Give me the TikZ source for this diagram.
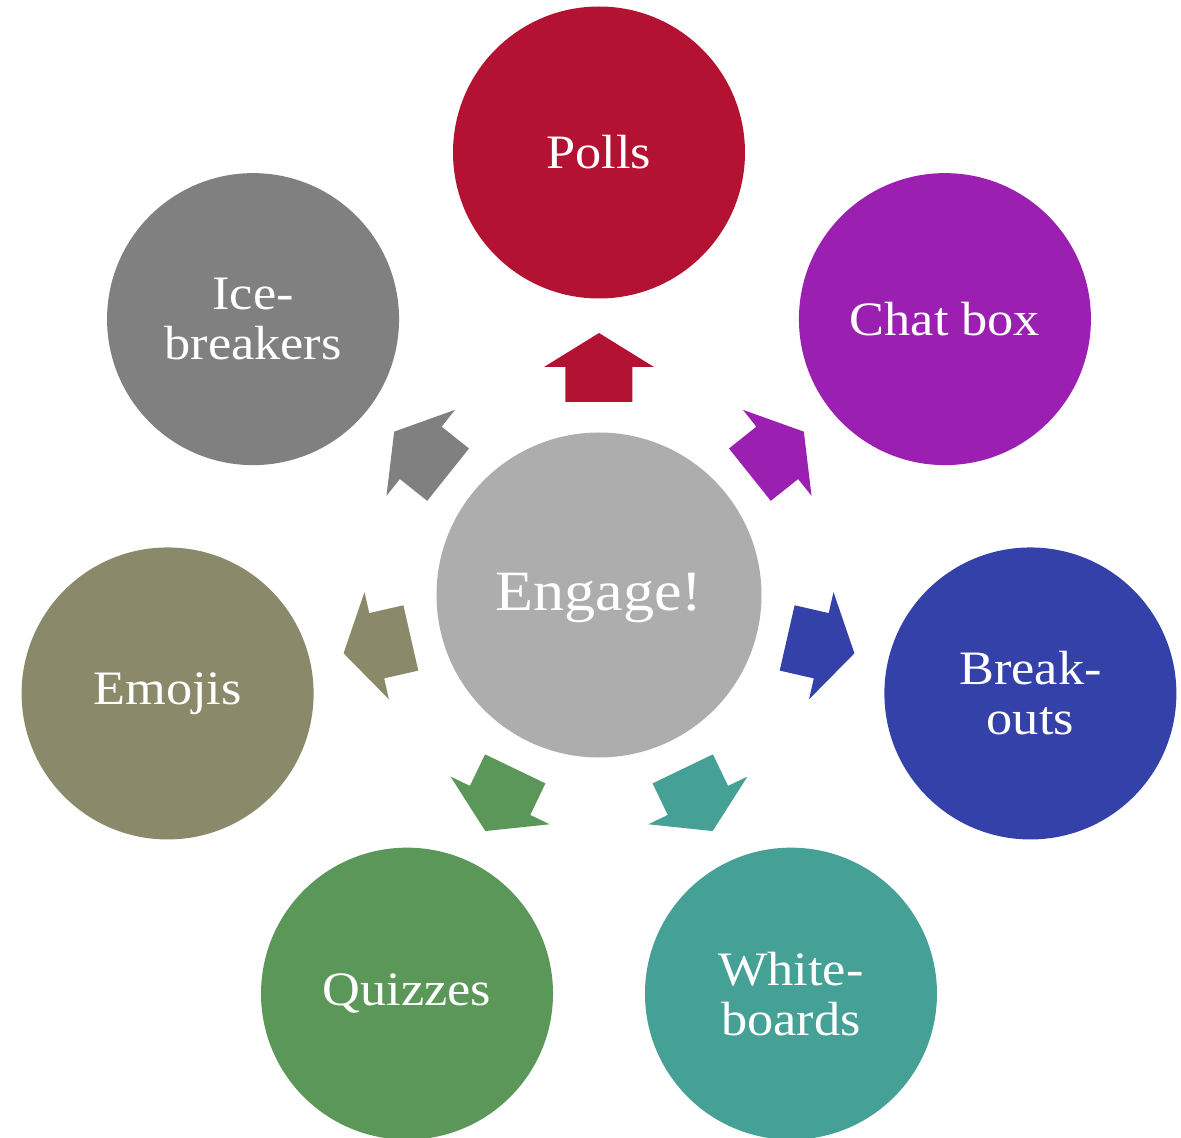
\documentclass[tikz,border=0pt]{standalone}
\usepackage{fontspec}
\setmainfont{Liberation Serif}[FakeStretch=1.09]
\definecolor{cCenter}{RGB}{173,173,173}
\definecolor{cPolls}{RGB}{180,18,50}
\definecolor{cChat}{RGB}{155,32,178}
\definecolor{cBreak}{RGB}{52,65,168}
\definecolor{cWhite}{RGB}{69,160,150}
\definecolor{cQuiz}{RGB}{91,151,88}
\definecolor{cEmoji}{RGB}{138,138,106}
\definecolor{cIce}{RGB}{128,128,128}
\begin{document}
\begin{tikzpicture}[x=1pt,y=1pt,
  outer/.style={circle, fill=#1, minimum size=292pt, inner sep=0pt, text=white,
    font=\fontsize{48}{50}\selectfont, align=center},
  hub/.style={circle, fill=cCenter, minimum size=325pt, inner sep=0pt, text=white,
    font=\fontsize{57}{60}\selectfont},
  blockarrow/.style={fill=#1}]
\useasboundingbox (-599,-543) rectangle (582,595);
\node[hub] (engage) at (0,0) {};
\node[text=white, font=\fontsize{57}{60}\selectfont] (engagetxt) at (0,-3) {Engage!};
\node[outer=cPolls] (polls) at (90:442.5) {Polls};
\node[outer=cChat] (chat) at (38.5714:442.5) {Chat box};
\node[outer=cBreak] (break) at (-12.8571:442.5) {Break-\\outs};
\node[outer=cWhite] (white) at (-64.2857:442.5) {White-\\boards};
\node[outer=cQuiz] (quiz) at (-115.7143:442.5) {Quizzes};
\node[outer=cEmoji] (emoji) at (192.8571:442.5) {Emojis};
\node[outer=cIce] (ice) at (141.4286:442.5) {Ice-\\breakers};
\foreach \ang/\col in {90/cPolls, 38.5714/cChat, -12.8571/cBreak, -64.2857/cWhite,
  -115.7143/cQuiz, 192.8571/cEmoji, 141.4286/cIce}{
  \fill[blockarrow=\col, rotate=\ang] (193,-33.5) -- (228,-33.5) -- (228,-55)
    -- (262,0) -- (228,55) -- (228,33.5) -- (193,33.5) -- cycle;
}
\end{tikzpicture}
\end{document}
